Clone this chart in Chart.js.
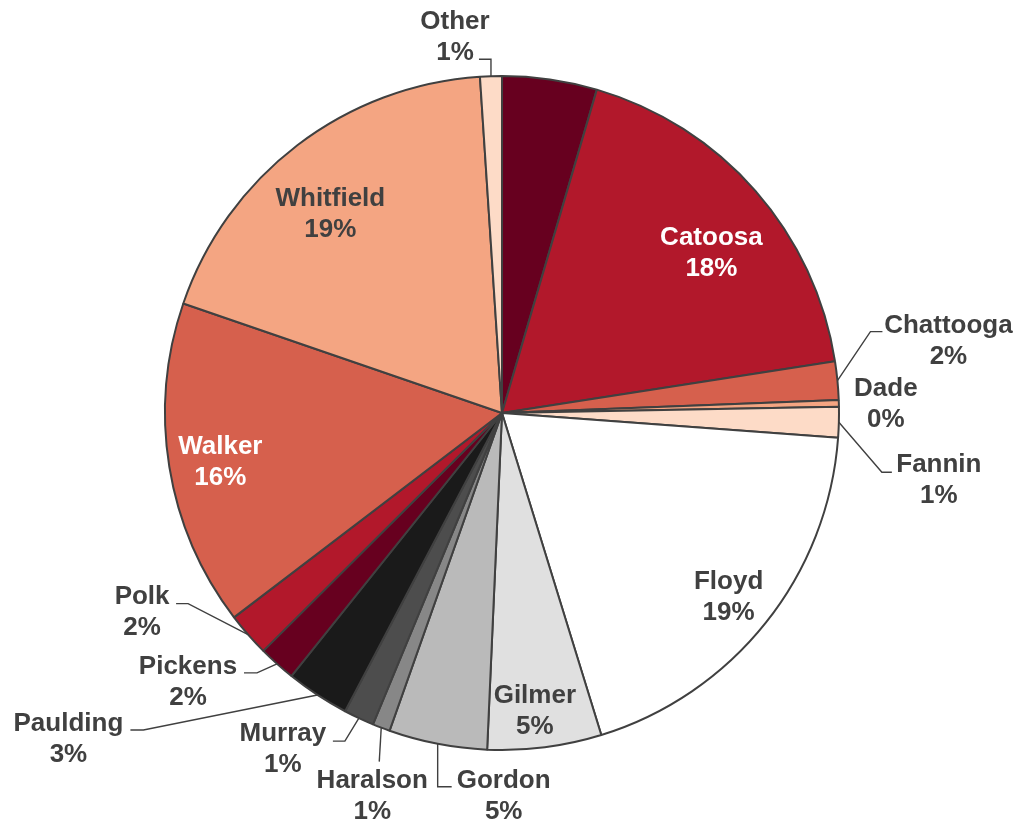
<!DOCTYPE html>
<html>
<head>
<meta charset="utf-8">
<script src="https://cdn.jsdelivr.net/npm/chart.js@4.4.1/dist/chart.umd.min.js"></script>
<style>
  html, body { margin: 0; padding: 0; background: #ffffff; }
  #wrap { width: 1021px; height: 822px; }
</style>
</head>
<body>
<div id="wrap"><canvas id="countyPie" width="1021" height="822"></canvas></div>
<script>
// share of total, percent (first slice carries no label in the source)
const counties = ['', 'Catoosa', 'Chattooga', 'Dade', 'Fannin', 'Floyd', 'Gilmer', 'Gordon',
  'Haralson', 'Murray', 'Paulding', 'Pickens', 'Polk', 'Walker', 'Whitfield', 'Other'];
const shares = [4.53, 17.97, 1.83, 0.32, 1.46, 19.03, 5.45, 4.7,
  0.84, 1.45, 3.03, 1.78, 2.1, 15.6, 18.65, 1.04];

const sliceColors = ['#67001f', '#b2182b', '#d6604d', '#f4a582', '#fddbc7', '#ffffff',
  '#e0e0e0', '#bababa', '#878787', '#4d4d4d', '#1a1a1a', '#67001f', '#b2182b',
  '#d6604d', '#f4a582', '#fddbc7'];

// label placement: offset of the label block from the slice's outer mid point,
// optional leader end (relative to label centre) and the short horizontal stub
const labelPlace = {
  'Catoosa':   { off: [-44, 60], color: '#ffffff' },
  'Chattooga': { off: [111, -42], lead: [-66, -7], stub: -12 },
  'Dade':      { off: [47, -1] },
  'Fannin':    { off: [100, 56], lead: [-47, -6], stub: -10 },
  'Floyd':     { off: [-37, -28] },
  'Gilmer':    { off: [-10, -38] },
  'Gordon':    { off: [66, 50], lead: [-52, -7], stub: -14 },
  'Haralson':  { off: [-9, 66], lead: [7, -32], stub: 0 },
  'Murray':    { off: [-76, 29], lead: [50, -6], stub: 12 },
  'Paulding':  { off: [-249, 42], lead: [62, -7], stub: 13 },
  'Pickens':   { off: [-89, 16], lead: [56, -7], stub: 13 },
  'Polk':      { off: [-106, -25], lead: [34, -6], stub: 12 },
  'Walker':    { off: [51, -7], color: '#ffffff' },
  'Whitfield': { off: [33, 67] },
  'Other':     { off: [-36, -41], lead: [24, 24], stub: 12 }
};

const pieLabels = {
  id: 'pieLabels',
  afterDatasetsDraw(chart) {
    const ctx = chart.ctx;
    const meta = chart.getDatasetMeta(0);
    const total = shares.reduce((a, b) => a + b, 0);
    ctx.save();
    ctx.font = 'bold 26px "Liberation Sans", Arial, sans-serif';
    ctx.textAlign = 'center';
    ctx.textBaseline = 'alphabetic';
    meta.data.forEach((arc, i) => {
      const name = counties[i];
      const place = labelPlace[name];
      if (!name || !place) return;
      const p = arc.getProps(['x', 'y', 'startAngle', 'endAngle', 'outerRadius'], true);
      const mid = (p.startAngle + p.endAngle) / 2;
      const ax = p.x + Math.cos(mid) * p.outerRadius;
      const ay = p.y + Math.sin(mid) * p.outerRadius;
      const cx = ax + place.off[0];
      const cy = ay + place.off[1];

      if (place.lead) {
        const ex = cx + place.lead[0];
        const ey = cy + place.lead[1];
        ctx.beginPath();
        ctx.moveTo(ax, ay);
        ctx.lineTo(ex + place.stub, ey);
        ctx.lineTo(ex, ey);
        ctx.strokeStyle = '#404040';
        ctx.lineWidth = 1.4;
        ctx.stroke();
      }

      const pct = Math.round(shares[i] / total * 100) + '%';
      ctx.fillStyle = place.color || '#404040';
      ctx.fillText(name, cx, cy - 6);
      ctx.fillText(pct, cx, cy + 25);
    });
    ctx.restore();
  }
};

new Chart(document.getElementById('countyPie').getContext('2d'), {
  type: 'pie',
  data: {
    labels: counties,
    datasets: [{
      data: shares,
      backgroundColor: sliceColors,
      borderColor: '#404040',
      borderWidth: 2
    }]
  },
  options: {
    responsive: false,
    animation: false,
    radius: 337,
    layout: { padding: { left: 150, right: 167, top: 72, bottom: 68 } },
    plugins: {
      legend: { display: false },
      tooltip: { enabled: false }
    }
  },
  plugins: [pieLabels]
});
</script>
</body>
</html>
